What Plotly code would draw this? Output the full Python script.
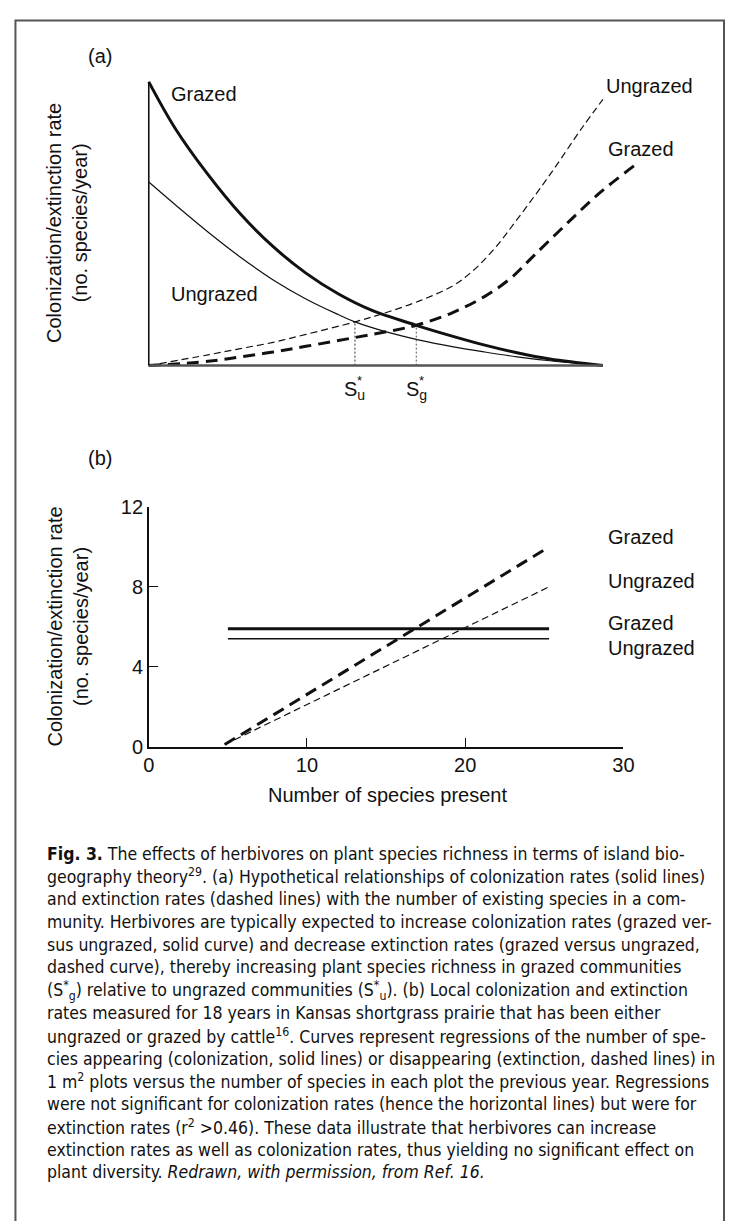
import plotly.graph_objects as go

# page is 743x1229; the browser's default 8px body margin is taken out of the figure size
PAGE_W, PAGE_H, M = 743, 1229, 8
W, H = PAGE_W - 2 * M, PAGE_H - 2 * M

# ---------------- Panel (a): hypothetical curves (arbitrary units) ----------------
a_grazed_col_x = [0, 5.9, 13.1, 20.2, 27.4, 34.6, 41.7, 48.9, 58.9, 66.8, 74.0, 81.1, 88.3, 100]
a_grazed_col_y = [100, 83.4, 67.2, 53.4, 41.9, 32.6, 25.3, 19.6, 14.2, 10.4, 7.2, 4.5, 2.3, 0]
a_ungrazed_col_x = [0, 5.9, 13.1, 20.2, 27.4, 34.6, 41.7, 45.4, 52.5, 59.6, 66.8, 74.0, 81.1, 88.3, 100]
a_ungrazed_col_y = [64.7, 56.6, 47.0, 38.2, 30.2, 23.5, 18.0, 15.4, 11.8, 9.0, 6.7, 4.8, 3.1, 1.7, 0]
a_ungrazed_ext_x = [0, 13.1, 20.2, 27.4, 34.6, 45.4, 52.5, 59.6, 66.8, 71.1, 76.0, 81.1, 88.3, 95.5, 100]
a_ungrazed_ext_y = [0, 3.8, 6.0, 8.2, 11.0, 15.4, 18.8, 22.8, 28.0, 33.0, 41.0, 51.5, 67.2, 84.0, 93.8]
a_grazed_ext_x = [0, 13.1, 20.2, 27.4, 34.6, 45.4, 53.9, 58.9, 66.8, 74.0, 79.7, 84.7, 91.9, 99.1, 107.1]
a_grazed_ext_y = [0, 1.5, 3.1, 4.8, 6.8, 9.9, 12.4, 14.2, 18.6, 24.4, 30.8, 38.6, 49.8, 60.6, 70.7]
a_axis_max = 100
su_x, su_y = 45.4, 15.4
sg_x, sg_y = 58.9, 14.2

# ---------------- Panel (b): Kansas shortgrass prairie regressions ----------------
b_col_x = [5.0, 25.3]
b_col_grazed = [5.9, 5.9]
b_col_ungrazed = [5.4, 5.4]
b_ext_x = [4.8, 25.3]
b_ext_grazed = [0.1, 10.0]
b_ext_ungrazed = [0.1, 8.0]
b_xticks = [0, 10, 20, 30]
b_yticks = [0, 4, 8, 12]

caption_lines = [
    "<b>Fig. 3.</b> The effects of herbivores on plant species richness in terms of island bio-",
    "geography theory<sup>29</sup>. (a) Hypothetical relationships of colonization rates (solid lines)",
    "and extinction rates (dashed lines) with the number of existing species in a com-",
    "munity. Herbivores are typically expected to increase colonization rates (grazed ver-",
    "sus ungrazed, solid curve) and decrease extinction rates (grazed versus ungrazed,",
    "dashed curve), thereby increasing plant species richness in grazed communities",
    "(S<sup>*</sup><sub>g</sub>) relative to ungrazed communities (S<sup>*</sup><sub>u</sub>). (b) Local colonization and extinction",
    "rates measured for 18 years in Kansas shortgrass prairie that has been either",
    "ungrazed or grazed by cattle<sup>16</sup>. Curves represent regressions of the number of spe-",
    "cies appearing (colonization, solid lines) or disappearing (extinction, dashed lines) in",
    "1 m<sup>2</sup> plots versus the number of species in each plot the previous year. Regressions",
    "were not significant for colonization rates (hence the horizontal lines) but were for",
    "extinction rates (r<sup>2</sup> >0.46). These data illustrate that herbivores can increase",
    "extinction rates as well as colonization rates, thus yielding no significant effect on",
    "plant diversity. <i>Redrawn, with permission, from Ref. 16.</i>",
]

FONT = "Liberation Sans, Arial, Helvetica, sans-serif"
CAP_FONT = "DejaVu Sans Condensed, Liberation Sans Narrow, sans-serif"
INK = "#111111"


def px(x):
    return (x - M) / W


def py(y):
    return 1 - (y - M) / H


fig = go.Figure()

# panel (a) traces
fig.add_trace(go.Scatter(x=a_grazed_col_x, y=a_grazed_col_y, mode="lines",
                         line=dict(color=INK, width=3, shape="spline", smoothing=1.0),
                         xaxis="x", yaxis="y", showlegend=False))
fig.add_trace(go.Scatter(x=a_ungrazed_col_x, y=a_ungrazed_col_y, mode="lines",
                         line=dict(color=INK, width=1.2, shape="spline", smoothing=1.0),
                         xaxis="x", yaxis="y", showlegend=False))
fig.add_trace(go.Scatter(x=a_ungrazed_ext_x, y=a_ungrazed_ext_y, mode="lines",
                         line=dict(color=INK, width=1.2, dash="7px,4px", shape="spline", smoothing=1.0),
                         xaxis="x", yaxis="y", showlegend=False))
fig.add_trace(go.Scatter(x=a_grazed_ext_x, y=a_grazed_ext_y, mode="lines",
                         line=dict(color=INK, width=3, dash="12px,7px", shape="spline", smoothing=1.0),
                         xaxis="x", yaxis="y", showlegend=False))
fig.add_trace(go.Scatter(x=[su_x, su_x], y=[0, su_y], mode="lines",
                         line=dict(color="#333333", width=1, dash="2px,2px"),
                         xaxis="x", yaxis="y", showlegend=False))
fig.add_trace(go.Scatter(x=[sg_x, sg_x], y=[0, sg_y], mode="lines",
                         line=dict(color="#555555", width=1, dash="2px,2px"),
                         xaxis="x", yaxis="y", showlegend=False))

# panel (b) traces
fig.add_trace(go.Scatter(x=b_col_x, y=b_col_grazed, mode="lines",
                         line=dict(color=INK, width=3), xaxis="x2", yaxis="y2", showlegend=False))
fig.add_trace(go.Scatter(x=b_col_x, y=b_col_ungrazed, mode="lines",
                         line=dict(color=INK, width=1.4), xaxis="x2", yaxis="y2", showlegend=False))
fig.add_trace(go.Scatter(x=b_ext_x, y=b_ext_grazed, mode="lines",
                         line=dict(color=INK, width=3, dash="12px,7px"), xaxis="x2", yaxis="y2",
                         showlegend=False))
fig.add_trace(go.Scatter(x=b_ext_x, y=b_ext_ungrazed, mode="lines",
                         line=dict(color=INK, width=1.2, dash="7px,4px"), xaxis="x2", yaxis="y2",
                         showlegend=False))

shapes = [
    # frame (open at the bottom, as in the cropped reference)
    dict(type="rect", xref="paper", yref="paper", x0=px(9.5), x1=px(735), y0=py(1260), y1=py(9.5),
         line=dict(color="#555555", width=2), fillcolor="rgba(0,0,0,0)"),
    # panel (a) axes
    dict(type="line", xref="x", yref="y", x0=0, x1=a_axis_max, y0=0, y1=0,
         line=dict(color="#555555", width=2.5)),
    dict(type="line", xref="x", yref="y", x0=0, x1=0, y0=0, y1=a_axis_max,
         line=dict(color=INK, width=1.6)),
]

ann = []


def label(text, x, y, size=20, xanchor="left", angle=0, family=FONT, xref="paper", yref="paper"):
    ann.append(dict(text=text, x=x, y=y, xref=xref, yref=yref, xanchor=xanchor, yanchor="middle",
                    showarrow=False, textangle=angle, font=dict(family=family, size=size, color=INK)))


label("(a)", px(82), py(46))
label("(b)", px(82), py(455))
label("Grazed", px(167), py(84))
label("Ungrazed", px(167), py(288))
label("Ungrazed", px(612), py(76))
label("Grazed", px(614), py(140))
label("Grazed", px(614), py(536))
label("Ungrazed", px(614), py(580))
label("Grazed", px(614), py(623))
label("Ungrazed", px(614), py(649))
ytitle = "Colonization/extinction rate<br>(no. species/year)"
label(ytitle, px(63), py(216), xanchor="center", angle=-90)
label(ytitle, px(63), py(627), xanchor="center", angle=-90)
label("Number of species present", px(390), py(798), xanchor="center")

# S* labels under panel (a), positioned at equilibrium species numbers
for sx, sub in [(su_x, "u"), (sg_x, "g")]:
    ann.append(dict(text="S<sub>" + sub + "</sub>", x=sx, y=py(386), xref="x", yref="paper",
                    xanchor="center", yanchor="middle", showarrow=False,
                    font=dict(family=FONT, size=20, color=INK)))
    ann.append(dict(text="*", x=sx, y=py(376), xref="x", yref="paper", xshift=5,
                    xanchor="center", yanchor="middle", showarrow=False,
                    font=dict(family=FONT, size=13, color=INK)))

for i, line in enumerate(caption_lines):
    label(line, px(40), py(858 + 23.2 * i), size=17.5, family=CAP_FONT)

# panel (a) geometry: x=0 at 146 px, 4.65 px/unit; y=0 at 361 px, 2.89 px/unit
fig.update_layout(
    width=W, height=H,
    margin=dict(l=0, r=0, t=0, b=0),
    paper_bgcolor="white", plot_bgcolor="rgba(0,0,0,0)",
    showlegend=False,
    xaxis=dict(domain=[px(140), px(700)], range=[-6 / 4.65, 554 / 4.65], visible=False, fixedrange=True),
    yaxis=dict(domain=[py(365), py(60)], range=[-4 / 2.89, 301 / 2.89], visible=False, fixedrange=True),
    xaxis2=dict(domain=[px(146), px(632)], range=[0, 30], anchor="y2",
                tickvals=b_xticks, ticks="inside", ticklen=9, tickwidth=1.4, tickcolor=INK,
                showline=True, linecolor=INK, linewidth=1.5, showgrid=False, zeroline=False,
                tickfont=dict(family=FONT, size=20, color=INK), fixedrange=True),
    yaxis2=dict(domain=[py(749), py(505)], range=[0, 12], anchor="x2",
                tickvals=b_yticks, ticks="inside", ticklen=9, tickwidth=1.4, tickcolor=INK,
                showline=True, linecolor=INK, linewidth=1.5, showgrid=False, zeroline=False,
                tickfont=dict(family=FONT, size=20, color=INK), fixedrange=True),
    shapes=shapes,
    annotations=ann,
)

fig.write_html("out.html", config={"displayModeBar": False})
